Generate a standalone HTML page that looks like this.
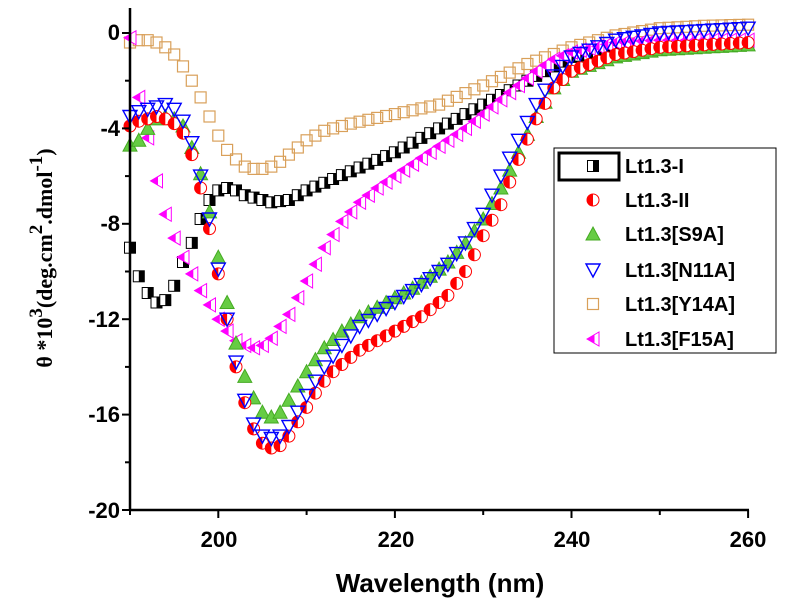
<!DOCTYPE html>
<html><head><meta charset="utf-8"><style>
body{margin:0;background:#fff;width:787px;height:606px;overflow:hidden}
svg{display:block}
text{font-family:"Liberation Sans",Arial,sans-serif;font-weight:bold}
</style></head><body>
<svg id="s" width="787" height="606" xmlns="http://www.w3.org/2000/svg">
<g id="d"></g>
<line x1="130" y1="8" x2="130" y2="511" stroke="#000" stroke-width="2.5"/>
<line x1="129" y1="510" x2="749" y2="510" stroke="#000" stroke-width="2.5"/>
<g id="ax" stroke="#000" stroke-width="2"></g>
<g font-size="22" text-anchor="end">
<text x="120" y="40">0</text><text x="120" y="136">-4</text><text x="120" y="231">-8</text>
<text x="120" y="327">-12</text><text x="120" y="422">-16</text><text x="120" y="518">-20</text>
</g>
<g font-size="22" text-anchor="middle">
<text x="219" y="547">200</text><text x="396" y="547">220</text><text x="572" y="547">240</text><text x="748" y="547">260</text>
</g>
<text x="440" y="592" font-size="26" text-anchor="middle">Wavelength (nm)</text>
<text transform="translate(52,258) rotate(-90)" font-size="22" text-anchor="middle" style="font-family:'Liberation Serif',serif">θ *10<tspan dy="-10" font-size="19">3</tspan><tspan dy="10">(deg.cm</tspan><tspan dy="-10" font-size="19">2</tspan><tspan dy="10">.dmol</tspan><tspan dy="-10" font-size="19">-1</tspan><tspan dy="10">)</tspan></text>
<rect x="554" y="148" width="222" height="205" fill="#fff" stroke="#000" stroke-width="1"/>
<rect x="559" y="153" width="60" height="27" fill="none" stroke="#000" stroke-width="3"/>
<g id="lg"></g>
<g font-size="20">
<text x="625" y="173">Lt1.3-I</text><text x="625" y="207">Lt1.3-II</text><text x="625" y="241">Lt1.3[S9A]</text>
<text x="625" y="277">Lt1.3[N11A]</text><text x="625" y="311">Lt1.3[Y14A]</text><text x="625" y="346">Lt1.3[F15A]</text>
</g>
</svg>
<script>
const NS="http://www.w3.org/2000/svg";
const X=n=>130+(n-190)*8.83, Y=v=>33-v*23.85;
const ax=document.getElementById('ax');
function ln(a,b,c,d){const l=document.createElementNS(NS,'line');l.setAttribute('x1',a);l.setAttribute('y1',b);l.setAttribute('x2',c);l.setAttribute('y2',d);ax.appendChild(l);}
for(let v=0;v>=-20;v-=2){ln(130,Y(v),v%4==0?122:125,Y(v));}
for(let n=190;n<=260;n+=10){ln(X(n),510,X(n),(n%20==0)?518:515);}
function interp(k,n){for(let i=0;i<k.length-1;i++){if(n>=k[i][0]&&n<=k[i+1][0]){const t=(n-k[i][0])/(k[i+1][0]-k[i][0]);return k[i][1]+t*(k[i+1][1]-k[i][1]);}}return k[k.length-1][1];}
const S={
y14:[[190,-0.4],[191,-0.3],[192,-0.3],[193,-0.4],[194,-0.6],[195,-0.9],[196,-1.4],[197,-2.0],[198,-2.7],[199,-3.5],[200,-4.3],[201,-4.9],[202,-5.3],[203,-5.6],[204,-5.7],[205,-5.7],[206,-5.6],[207,-5.4],[208,-5.1],[209,-4.8],[210,-4.5],[212,-4.1],[215,-3.8],[220,-3.4],[225,-3.0],[230,-2.2],[235,-1.3],[240,-0.6],[245,-0.1],[250,0.2],[255,0.3],[260,0.35]],
one:[[190,-9],[191,-10.2],[192,-10.9],[193,-11.3],[194,-11.2],[195,-10.6],[196,-9.6],[197,-8.8],[198,-7.8],[199,-7],[200,-6.6],[201,-6.5],[202,-6.6],[203,-6.8],[204,-6.9],[205,-7.0],[206,-7.1],[207,-7.05],[208,-7.0],[209,-6.8],[210,-6.6],[220,-5.0],[230,-3.0],[235,-2.0],[240,-1.0],[250,-0.5],[260,-0.4]],
f15:[[190,-0.2],[191,-2.7],[192,-4.4],[193,-6.2],[194,-7.6],[195,-8.6],[196,-9.4],[197,-10.1],[198,-10.8],[199,-11.4],[200,-12],[201,-12.5],[202,-12.9],[203,-13.1],[204,-13.2],[205,-13.1],[206,-12.8],[208,-11.8],[210,-10.4],[212,-9],[214,-7.9],[216,-7.1],[218,-6.5],[220,-6.0],[222,-5.5],[224,-5],[226,-4.5],[228,-4.0],[230,-3.4],[232,-2.8],[234,-2.2],[236,-1.6],[238,-1.1],[240,-0.8],[245,-0.4],[250,-0.3],[260,-0.3]],
s9:[[190,-4.7],[191,-4.5],[192,-4.0],[193,-3.6],[194,-3.5],[195,-3.6],[196,-3.9],[197,-4.8],[198,-5.9],[199,-7.5],[200,-9.4],[201,-11.3],[202,-13],[203,-14.4],[204,-15.3],[205,-15.9],[206,-16.1],[207,-15.9],[208,-15.4],[209,-14.8],[210,-14.2],[212,-13.2],[214,-12.5],[216,-11.9],[218,-11.5],[220,-11.1],[222,-10.7],[224,-10.2],[226,-9.6],[228,-8.8],[230,-7.8],[232,-6.5],[234,-5],[236,-3.5],[238,-2.3],[240,-1.6],[245,-1.0],[250,-0.7],[260,-0.5]],
two:[[190,-3.9],[191,-3.7],[192,-3.6],[193,-3.5],[194,-3.6],[195,-3.8],[196,-4.2],[197,-5.1],[198,-6.5],[199,-8.2],[200,-10.1],[201,-12],[202,-14],[203,-15.5],[204,-16.6],[205,-17.2],[206,-17.4],[207,-17.3],[208,-16.9],[209,-16.3],[210,-15.7],[211,-15.1],[212,-14.6],[213,-14.2],[214,-13.9],[215,-13.6],[216,-13.3],[217,-13.1],[218,-12.9],[219,-12.7],[220,-12.5],[221,-12.3],[222,-12.1],[223,-11.9],[224,-11.6],[225,-11.3],[226,-11],[227,-10.5],[228,-10],[229,-9.3],[230,-8.5],[232,-7.2],[234,-5.3],[236,-3.6],[238,-2.3],[240,-1.6],[245,-0.9],[250,-0.6],[260,-0.4]],
n11:[[190,-3.5],[191,-3.3],[192,-3.2],[193,-3.1],[194,-3.0],[195,-3.2],[196,-3.7],[197,-4.6],[198,-6],[199,-7.8],[200,-9.9],[201,-12],[202,-13.8],[203,-15.4],[204,-16.4],[205,-16.9],[206,-17.0],[207,-16.9],[208,-16.5],[209,-15.9],[210,-15.2],[212,-14],[214,-13.1],[216,-12.3],[218,-11.8],[220,-11.3],[222,-10.8],[224,-10.3],[226,-9.7],[228,-8.8],[230,-7.6],[232,-6],[234,-4.5],[236,-3.0],[238,-1.8],[240,-1.0],[245,-0.3],[250,0],[255,0.1],[260,0.2]]};
function mk(type,x,y){
 const g=`<g transform="translate(${x.toFixed(1)},${y.toFixed(1)})">`;
 switch(type){
 case 'one':return g+`<rect x="-5.5" y="-5.5" width="11" height="11" fill="#fff" stroke="#000" stroke-width="1"/><rect x="0" y="-5.5" width="5.5" height="11" fill="#000"/></g>`;
 case 'two':return g+`<circle r="6" fill="#fff" stroke="#f00" stroke-width="1"/><path d="M0,-6A6,6 0 0 0 0,6Z" fill="#f00"/></g>`;
 case 's9':return g+`<path d="M0,-7L7,6H-7Z" fill="#6c4" stroke="#4a2" stroke-width="1"/></g>`;
 case 'n11':return g+`<path d="M-7,-6H7L0,7Z" fill="none" stroke="#00f" stroke-width="1.4"/></g>`;
 case 'y14':return g+`<rect x="-5.5" y="-5.5" width="11" height="11" fill="none" stroke="#d9a05a" stroke-width="1.2"/></g>`;
 case 'f15':return g+`<path d="M-6,0L6,-7V7Z" fill="#fff" stroke="#f0f" stroke-width="1"/><path d="M-6,0L1.5,-4.4V4.4Z" fill="#f0f"/></g>`;
 }}
let h='';
for(const k of ['y14','one','f15','s9','two','n11']){for(let n=190;n<=260;n++){h+=mk(k,X(n),Y(interp(S[k],n)));}}
document.getElementById('d').innerHTML=h;
let l='';const ys=[166,200,234,270,304,339];
['one','two','s9','n11','y14','f15'].forEach((k,i)=>l+=mk(k,593,ys[i]));
document.getElementById('lg').innerHTML=l;
</script>
</body></html>
